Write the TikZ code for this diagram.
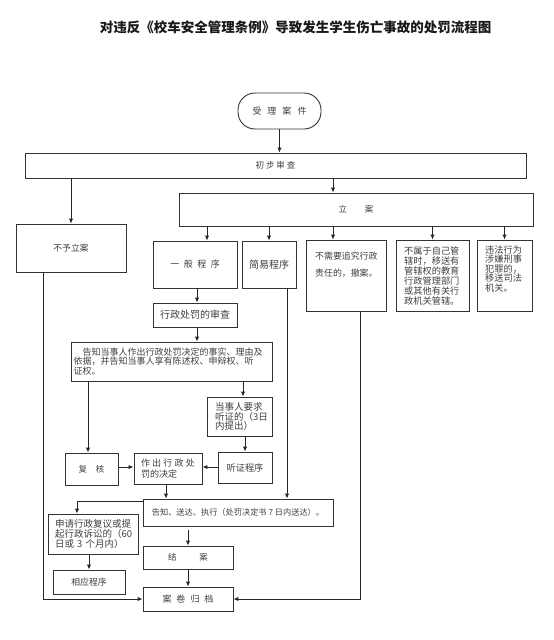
\documentclass[tikz,border=0pt]{standalone}
\usepackage{fontspec}
\newfontfamily\cjk{Noto Sans CJK SC}
\usetikzlibrary{arrows.meta,calc}
\newcommand\fs[2]{\fontsize{#1}{#2}\selectfont}
\lineskiplimit=-20pt
\begin{document}
\begin{tikzpicture}[x=1pt,y=-1pt,
  bx/.style={draw=black!80,line width=0.9pt,inner sep=0pt,text=black!75,font=\cjk\fs{9}{10}},
  arr/.style={draw=black!85,line width=1pt,-{Latex[length=5pt,width=4.5pt]}},
  ln/.style={draw=black!85,line width=1pt},
  txt/.style={inner sep=0pt,text=black!75,align=left,anchor=north west}]
\fill[white] (0,0) rectangle (554,640);
\path[use as bounding box] (0,0) rectangle (554,640);

\node[inner sep=0pt,font=\cjk\bfseries\fs{13.5}{14},text=black!90] (title) at (295.5,27.5)
  {对违反《校车安全管理条例》导致发生学生伤亡事故的处罚流程图};

\node[bx,rounded corners=17pt,minimum width=83pt,minimum height=36pt] (start) at (279.5,111)
  {受\hspace{6pt}理\hspace{6pt}案\hspace{6pt}件};
\node[bx,minimum width=501pt,minimum height=25pt,font=\cjk\fs{8.5}{10}] (chubu) at (275.5,165.5)
  {初\hspace{2pt}步\hspace{2pt}审\hspace{2pt}查\hspace{20pt}};
\node[bx,minimum width=354pt,minimum height=33pt,font=\cjk\fs{8.5}{10}] (lian) at (356,209.5)
  {立\hspace{18pt}案};
\node[bx,minimum width=110pt,minimum height=48pt,font=\cjk\fs{8.8}{10}] (buyu) at (71,248) {不予立案};
\node[bx,minimum width=84pt,minimum height=47pt] (yiban) at (195,264.5)
  {一\hspace{4.5pt}般\hspace{4.5pt}程\hspace{4.5pt}序};
\node[bx,minimum width=54pt,minimum height=47pt,font=\cjk\fs{10}{10}] (jianyi) at (269,264.5) {简易程序};
\node[bx,minimum width=80pt,minimum height=71pt] (buxu) at (346,275.5) {};
\node[bx,minimum width=73pt,minimum height=71pt] (bushu) at (432.5,275.5) {};
\node[bx,minimum width=55pt,minimum height=71pt] (weifa) at (504.5,275.5) {};
\node[txt,font=\cjk\fs{8.9}{17}] (buxut) at (315,251.5) {不需要追究行政\\责任的，撤案。};
\node[txt,font=\cjk\fs{9.2}{10}] (bushut) at (404,246.5)
  {不属于自己管\\辖时，移送有\\管辖权的教育\\行政管理部门\\或其他有关行\\政机关管辖。};
\node[txt,font=\cjk\fs{9.2}{9.4}] (weifat) at (485,245.5)
  {违法行为\\涉嫌刑事\\犯罪的，\\移送司法\\机关。};

\node[bx,minimum width=84pt,minimum height=24pt,font=\cjk\fs{10}{10}] (shencha) at (195,315) {行政处罚的审查};
\node[bx,minimum width=201pt,minimum height=39pt,text width=196pt,align=left,font=\cjk\fs{9}{9.7}] (gaozhi) at (171.5,361.5)
  {\hspace*{9pt}告知当事人作出行政处罚决定的事实、理由及\\依据，并告知当事人享有陈述权、申辩权、听\\证权。};
\node[bx,minimum width=65pt,minimum height=39pt,text width=49pt,align=left,font=\cjk\fs{9.5}{9.6}] (tzq) at (239.5,416.5)
  {当事人要求\\听证的（3日\\内提出）};
\node[bx,minimum width=53pt,minimum height=32pt,font=\cjk\fs{8.5}{10}] (fuhe) at (91.5,469) {复\hspace{9pt}核};
\node[bx,minimum width=68pt,minimum height=31pt,text width=54pt,align=left,font=\cjk\fs{9}{11.5}] (zuochu) at (168,468.5)
  {作\hspace{2.2pt}出\hspace{2.2pt}行\hspace{2.2pt}政\hspace{2.2pt}处\\罚的决定};
\node[bx,minimum width=54pt,minimum height=31pt,font=\cjk\fs{9.2}{10}] (tzcx) at (245,467.5) {听证程序};
\node[bx,minimum width=190pt,minimum height=27pt,font=\cjk\fs{8.2}{10}] (songda) at (238,512.5)
  {告知、送达、执行（处罚决定书 7 日内送达）。};
\node[bx,minimum width=90pt,minimum height=40pt,text width=76pt,align=left,font=\cjk\fs{9.5}{10}] (shenqing) at (93,534)
  {申请行政复议或提\\起行政诉讼的（60\\日或 3 个月内）};
\node[bx,minimum width=72pt,minimum height=24pt,font=\cjk\fs{8.8}{10}] (xiangying) at (89,582) {相应程序};
\node[bx,minimum width=90pt,minimum height=23pt,font=\cjk\fs{8.5}{10}] (jiean) at (188,557.5) {结\hspace{23pt}案};
\node[bx,minimum width=90pt,minimum height=24pt] (guidang) at (188,599)
  {案\hspace{5pt}卷\hspace{5pt}归\hspace{5pt}档};

% connectors
\draw[arr] (start.south) -- (chubu.north -| start.south);
\draw[arr] (chubu.south -| buyu.north) -- (buyu.north);
\draw[arr] (chubu.south -| 333,0) -- (lian.north -| 333,0);
\draw[arr] (lian.south -| 207,0) -- (yiban.north -| 207,0);
\draw[arr] (lian.south -| jianyi.north) -- (jianyi.north);
\draw[arr] (lian.south -| 333,0) -- (buxu.north -| 333,0);
\draw[arr] (lian.south -| bushu.north) -- (bushu.north);
\draw[arr] (lian.south -| weifa.north) -- (weifa.north);
\draw[arr] (yiban.south -| 197,0) -- (shencha.north -| 197,0);
\draw[arr] (shencha.south -| 197,0) -- (gaozhi.north -| 197,0);
\draw[arr] (gaozhi.south -| 88,0) -- (fuhe.north -| 88,0);
\draw[arr] (gaozhi.south -| 243,0) -- (tzq.north -| 243,0);
\draw[arr] (tzq.south -| 245,0) -- (tzcx.north -| 245,0);
\draw[arr] (fuhe.east |- 0,467) -- (zuochu.west |- 0,467);
\draw[arr] (tzcx.west |- 0,467) -- (zuochu.east |- 0,467);
\draw[arr] (zuochu.south -| 166,0) -- (songda.north -| 166,0);
\draw[arr] (jianyi.south -| 287,0) -- (songda.north -| 287,0);
\draw[arr] (songda.west |- 0,501) -| (shenqing.north -| 77,0);
\draw[arr] (shenqing.south -| 89,0) -- (xiangying.north -| 89,0);
\draw[arr] ($(songda.south -| jiean.north)+(0,4)$) -- (jiean.north);
\draw[arr] (jiean.south) -- (guidang.north);
\draw[arr] (buyu.south -| 43,0) |- (guidang.west);
\draw[arr] (buxu.south -| 360,0) |- (guidang.east);
\end{tikzpicture}
\end{document}
